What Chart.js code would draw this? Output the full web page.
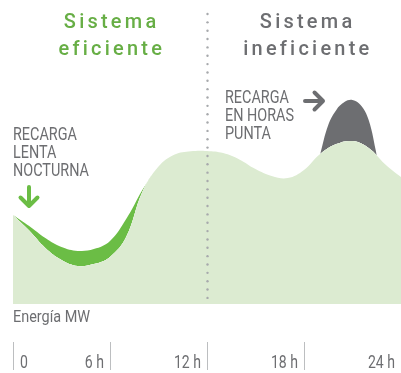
<!DOCTYPE html>
<html lang="es">
<head>
<meta charset="utf-8">
<title>Energía MW</title>
<script src="https://cdn.jsdelivr.net/npm/chart.js@4/dist/chart.umd.min.js"></script>
<style>
  html, body { margin: 0; padding: 0; background: #fff; }
  canvas { display: block; }
</style>
</head>
<body>
<canvas id="demanda" width="401" height="373"></canvas>
<script>
// demanda base a lo largo del día (horas / MW relativos)
var hours = [0, 1, 2, 3, 4, 5, 6, 7, 8, 9, 10, 11, 12, 13, 14, 15, 16, 17, 18, 19, 20, 21, 22, 23, 24];
var baseDemand = [29.7, 24.5, 18.7, 14.7, 12.7, 13.3, 15.7, 22.3, 37.3, 45.8, 49.8, 50.9, 51, 50.3, 48.2, 45, 42.7, 42, 44.7, 50, 53.3, 54.3, 52, 46.7, 42.3];

// demanda con recarga lenta nocturna
var nightHours = [0, 1, 2, 3, 4, 5, 6, 7, 8, 8.5];
var nightDemand = [29.7, 26, 22, 19, 17.7, 18.3, 21, 28.3, 38, 42.2];

// demanda con recarga en horas punta
var peakHours = [19, 19.5, 20, 20.5, 21, 21.5, 22, 22.5];
var peakDemand = [50, 59.7, 64.7, 67.3, 68, 66.3, 61.3, 49.7];

var tickHours = [0, 6, 12, 18, 24];
var tickLabels = ['0', '6 h', '12 h', '18 h', '24 h'];

var GREEN_LIGHT = '#dcebd1';
var GREEN = '#6bbd45';
var GREEN_TEXT = '#67ae45';
var GREY = '#6d6e71';

function points(xs, ys) {
    return xs.map(function (h, i) { return { x: h, y: ys[i] }; });
}

// texto con espaciado y compresión horizontal opcional
function label(ctx, text, px, py, opts) {
    var spacing = opts.spacing || 0;
    var sx = opts.sx || 1;
    ctx.save();
    ctx.font = opts.font;
    ctx.fillStyle = opts.color;
    var w = ctx.measureText(text).width + spacing * (text.length - 1);
    if ('letterSpacing' in ctx) ctx.letterSpacing = spacing + 'px';
    var left = px;
    if (opts.align === 'center') left = px - w * sx / 2;
    if (opts.align === 'right') left = px - w * sx;
    ctx.translate(left, py);
    ctx.scale(sx, 1);
    ctx.textAlign = 'left';
    ctx.textBaseline = 'alphabetic';
    ctx.fillText(text, 0, 0);
    ctx.restore();
}

function arrow(ctx, x1, y1, x2, y2, head, color) {
    var a = Math.atan2(y2 - y1, x2 - x1);
    ctx.save();
    ctx.strokeStyle = color;
    ctx.lineWidth = 4;
    ctx.lineCap = 'round';
    ctx.lineJoin = 'round';
    ctx.beginPath();
    ctx.moveTo(x1, y1);
    ctx.lineTo(x2, y2);
    ctx.moveTo(x2 - head * Math.cos(a - Math.PI / 4), y2 - head * Math.sin(a - Math.PI / 4));
    ctx.lineTo(x2, y2);
    ctx.lineTo(x2 - head * Math.cos(a + Math.PI / 4), y2 - head * Math.sin(a + Math.PI / 4));
    ctx.stroke();
    ctx.restore();
}

var decorations = {
    id: 'decorations',
    afterDatasetsDraw: function (chart) {
        var ctx = chart.ctx;
        var xs = chart.scales.x;
        var area = chart.chartArea;

        // separador punteado a las 12 h
        var xd = xs.getPixelForValue(12) + 0.5;
        ctx.save();
        ctx.fillStyle = '#a7a9ac';
        for (var y = 14; y <= area.bottom - 4; y += 8.35) {
            ctx.beginPath();
            ctx.arc(xd, y, 1.2, 0, Math.PI * 2);
            ctx.fill();
        }
        ctx.restore();

        // títulos
        var tfont = '500 21px Roboto';
        label(ctx, 'Sistema', xs.getPixelForValue(6), 28, { font: tfont, color: GREEN_TEXT, spacing: 3.4, align: 'center', sx: 0.95 });
        label(ctx, 'eficiente', xs.getPixelForValue(6), 55, { font: tfont, color: GREEN_TEXT, spacing: 3.4, align: 'center', sx: 0.95 });
        label(ctx, 'Sistema', xs.getPixelForValue(18) + 2, 28, { font: tfont, color: GREY, spacing: 3.4, align: 'center', sx: 0.95 });
        label(ctx, 'ineficiente', xs.getPixelForValue(18) + 2, 55, { font: tfont, color: GREY, spacing: 3.4, align: 'center', sx: 0.95 });

        // anotaciones
        var afont = '400 18px Roboto';
        label(ctx, 'RECARGA', area.left, 140, { font: afont, color: GREY, sx: 0.8 });
        label(ctx, 'LENTA', area.left, 158, { font: afont, color: GREY, sx: 0.8 });
        label(ctx, 'NOCTURNA', area.left, 176, { font: afont, color: GREY, sx: 0.8 });
        arrow(ctx, 29, 187, 29, 206, 12, GREEN);

        label(ctx, 'RECARGA', 225, 103, { font: afont, color: GREY, sx: 0.8 });
        label(ctx, 'EN HORAS', 225, 121, { font: afont, color: GREY, sx: 0.8 });
        label(ctx, 'PUNTA', 225, 139, { font: afont, color: GREY, sx: 0.8 });
        arrow(ctx, 305, 101, 323, 101, 12, GREY);

        // eje de horas
        label(ctx, 'Energía MW', area.left, 322, { font: '400 17px Roboto', color: GREY, sx: 0.85 });
        ctx.save();
        ctx.strokeStyle = '#bcbec0';
        ctx.lineWidth = 1;
        tickHours.forEach(function (h, i) {
            var px = Math.round(xs.getPixelForValue(h)) + 0.5;
            ctx.beginPath();
            ctx.moveTo(px, 342);
            ctx.lineTo(px, 370);
            ctx.stroke();
            var opts = { font: '400 18.5px Roboto', color: GREY, sx: 0.76 };
            if (i === 0) {
                label(ctx, tickLabels[i], px + 6.5, 368, opts);
            } else {
                opts.align = 'right';
                label(ctx, tickLabels[i], px - 6.5, 368, opts);
            }
        });
        ctx.restore();
    }
};

new Chart(document.getElementById('demanda').getContext('2d'), {
    type: 'line',
    data: {
        datasets: [{
            label: 'base',
            data: points(hours, baseDemand),
            backgroundColor: GREEN_LIGHT,
            fill: 'origin'
        }, {
            label: 'recarga nocturna',
            data: points(nightHours, nightDemand),
            fill: { target: 0, above: GREEN, below: 'rgba(0,0,0,0)' }
        }, {
            label: 'recarga punta',
            data: points(peakHours, peakDemand),
            fill: { target: 0, above: GREY, below: 'rgba(0,0,0,0)' }
        }]
    },
    options: {
        responsive: false,
        animation: false,
        layout: { padding: { left: 13, right: 0, top: 4, bottom: 69 } },
        elements: {
            point: { radius: 0, hoverRadius: 0 },
            line: { borderWidth: 0, borderColor: 'rgba(0,0,0,0)', tension: 0.4 }
        },
        scales: {
            x: { type: 'linear', min: 0, max: 24, display: false },
            y: { min: 0, max: 100, display: false }
        },
        plugins: {
            legend: { display: false },
            tooltip: { enabled: false }
        }
    },
    plugins: [decorations]
});
</script>
</body>
</html>
